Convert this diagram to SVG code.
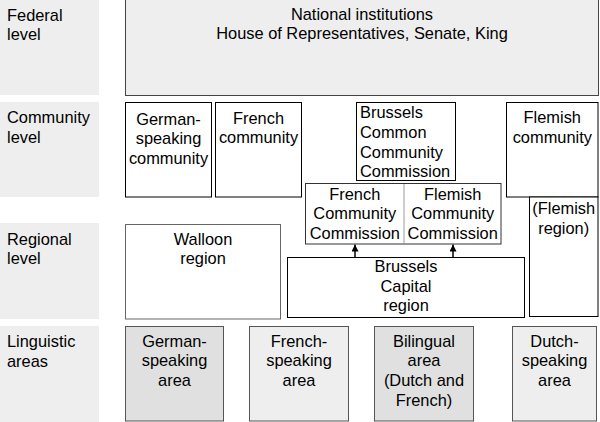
<svg xmlns="http://www.w3.org/2000/svg" width="600" height="422" viewBox="0 0 600 422">
  <style>
    text { font-family: "Liberation Sans", Arial, sans-serif; font-size: 16.4px; fill: #000; }
    .c { text-anchor: middle; }
    .lbl { fill: #eeeeee; stroke: none; }
    .box { fill: #ffffff; stroke: #000; stroke-width: 1; }
    .fed { fill: #eeeeee; stroke: #444; stroke-width: 1; }
    .wal { fill: #ffffff; stroke: #666; stroke-width: 1; }
    .la { fill: #eeeeee; stroke: #555; stroke-width: 1; }
    .ld { fill: #e0e0e0; stroke: #555; stroke-width: 1; }
    .arr { stroke: #000; stroke-width: 1.5; fill: none; }
  </style>
  <defs>
    <marker id="ah" markerUnits="userSpaceOnUse" markerWidth="7" markerHeight="7" refX="7" refY="3.5" orient="auto">
      <path d="M0,0 L7,3.5 L0,7 z" fill="#000"/>
    </marker>
  </defs>

  <g id="label-federal">
    <rect class="lbl" x="0" y="0" width="99" height="95"/>
    <text x="7" y="20.7">Federal</text>
    <text x="7" y="40.3">level</text>
  </g>
  <g id="label-community">
    <rect class="lbl" x="0" y="102" width="99" height="95"/>
    <text x="7" y="123.3">Community</text>
    <text x="7" y="142.5">level</text>
  </g>
  <g id="label-regional">
    <rect class="lbl" x="0" y="223" width="99" height="96"/>
    <text x="7" y="245">Regional</text>
    <text x="7" y="264">level</text>
  </g>
  <g id="label-linguistic">
    <rect class="lbl" x="0" y="326" width="99" height="96"/>
    <text x="7" y="346.7">Linguistic</text>
    <text x="7" y="366.5">areas</text>
  </g>

  <g id="federal">
    <rect class="fed" x="125.5" y="-1" width="473" height="96.5"/>
    <text class="c" x="362" y="19.5">National institutions</text>
    <text class="c" x="362" y="39">House of Representatives, Senate, King</text>
  </g>

  <g id="german-community">
    <rect class="box" x="125.5" y="102.5" width="86" height="94.5"/>
    <text class="c" x="168.5" y="124.5">German-</text>
    <text class="c" x="168.5" y="144">speaking</text>
    <text class="c" x="168.5" y="163.5">community</text>
  </g>
  <g id="french-community">
    <rect class="box" x="215.5" y="102.5" width="86" height="94.5"/>
    <text class="c" x="258.5" y="123.5">French</text>
    <text class="c" x="258.5" y="143">community</text>
  </g>
  <g id="brussels-common">
    <rect class="box" x="356.5" y="102.5" width="99" height="78"/>
    <text x="360" y="118.3">Brussels</text>
    <text x="360" y="138.3">Common</text>
    <text x="360" y="157.8">Community</text>
    <text x="360" y="177.3">Commission</text>
  </g>
  <g id="community-commissions">
    <rect x="305.5" y="183.5" width="195.5" height="60.5" fill="#ffffff" stroke="#333" stroke-width="1"/>
    <line x1="404" y1="184" x2="404" y2="243.5" stroke="#999" stroke-width="1"/>
    <text class="c" x="354.8" y="199.5">French</text>
    <text class="c" x="354.8" y="219.3">Community</text>
    <text class="c" x="354.8" y="238.8">Commission</text>
    <text class="c" x="452.7" y="199.5">Flemish</text>
    <text class="c" x="452.7" y="219.3">Community</text>
    <text class="c" x="452.7" y="238.8">Commission</text>
  </g>
  <g id="flemish-community">
    <rect class="box" x="506.5" y="102.5" width="91.5" height="94.5"/>
    <text class="c" x="552.3" y="123.3">Flemish</text>
    <text class="c" x="552.3" y="142.8">community</text>
  </g>
  <g id="flemish-region">
    <rect class="box" x="529.5" y="197" width="68.5" height="119.5"/>
    <text class="c" x="563.7" y="214">(Flemish</text>
    <text class="c" x="563.7" y="233.5">region)</text>
  </g>
  <g id="walloon-region">
    <rect class="wal" x="125.5" y="224.5" width="155" height="94.5"/>
    <text class="c" x="203" y="245">Walloon</text>
    <text class="c" x="203" y="264">region</text>
  </g>
  <g id="brussels-capital">
    <rect class="box" x="287.5" y="257.5" width="237" height="60"/>
    <text class="c" x="406" y="271.7">Brussels</text>
    <text class="c" x="406" y="291.5">Capital</text>
    <text class="c" x="406" y="311.3">region</text>
  </g>

  <g id="german-area">
    <rect class="ld" x="125.5" y="326.5" width="98" height="94.5"/>
    <text class="c" x="174.5" y="346.7">German-</text>
    <text class="c" x="174.5" y="366.3">speaking</text>
    <text class="c" x="174.5" y="386">area</text>
  </g>
  <g id="french-area">
    <rect class="la" x="249.5" y="326.5" width="99" height="94.5"/>
    <text class="c" x="299" y="346.7">French-</text>
    <text class="c" x="299" y="366.3">speaking</text>
    <text class="c" x="299" y="386">area</text>
  </g>
  <g id="bilingual-area">
    <rect class="ld" x="374.5" y="326.5" width="99" height="94.5"/>
    <text class="c" x="424" y="346.7">Bilingual</text>
    <text class="c" x="424" y="366.3">area</text>
    <text class="c" x="424" y="386">(Dutch and</text>
    <text class="c" x="424" y="405.7">French)</text>
  </g>
  <g id="dutch-area">
    <rect class="la" x="512.5" y="326.5" width="84" height="94.5"/>
    <text class="c" x="554.5" y="346.7">Dutch-</text>
    <text class="c" x="554.5" y="366.3">speaking</text>
    <text class="c" x="554.5" y="386">area</text>
  </g>

  <g id="connectors">
    <line class="arr" x1="355" y1="257" x2="355" y2="244.5" marker-end="url(#ah)"/>
    <line class="arr" x1="453" y1="257" x2="453" y2="244.5" marker-end="url(#ah)"/>
  </g>
</svg>
